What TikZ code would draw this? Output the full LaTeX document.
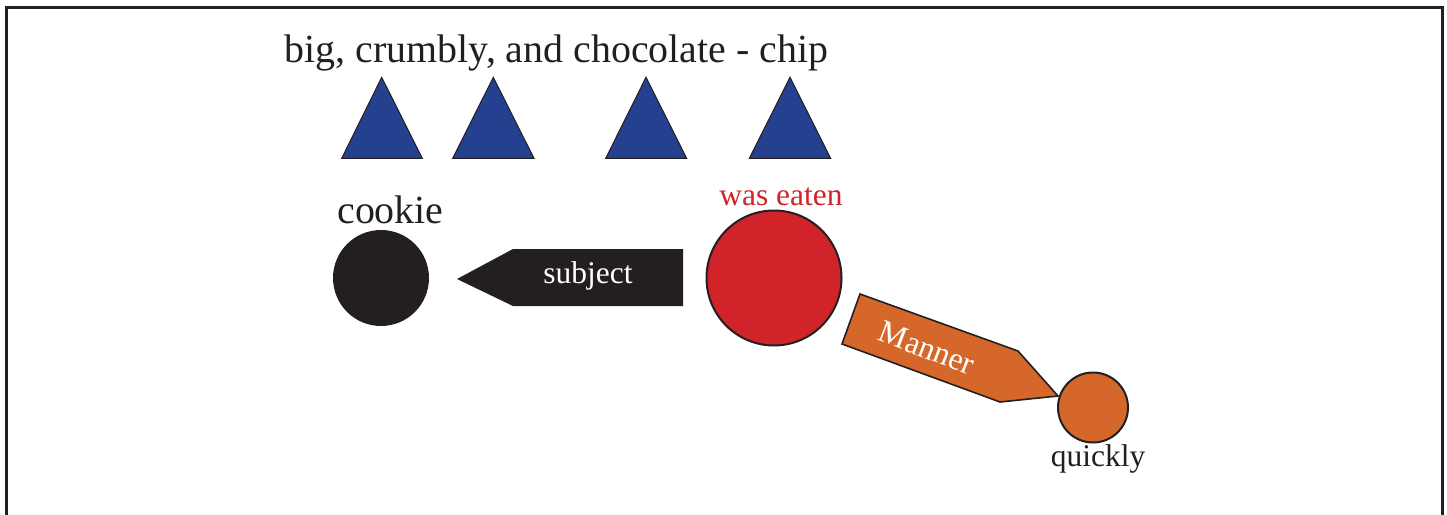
\documentclass[tikz,border=0pt]{standalone}
\usepackage{fontspec}
\setmainfont{Liberation Serif}
\definecolor{triblue}{HTML}{24408E}
\definecolor{verbred}{HTML}{D1232A}
\definecolor{advorange}{HTML}{D6672A}
\definecolor{inkblack}{HTML}{231F20}
\begin{document}
\begin{tikzpicture}[x=1pt,y=-1pt,
  tri/.style={fill=triblue,draw=inkblack,line width=1pt,line join=miter},
  bigtxt/.style={font=\fontsize{39.9}{40}\selectfont,text=inkblack,inner sep=0pt,anchor=base},
  midtxt/.style={font=\fontsize{31.5}{32}\selectfont,inner sep=0pt,anchor=base},
  blob/.style={circle,inner sep=0pt,line width=2pt,draw=inkblack}]
\useasboundingbox (0,0) rectangle (1447,514);
\draw[inkblack,line width=3pt] (6,7) rectangle (1442,540);
% title and modifiers
\node[bigtxt] (title) at (556.5,62) {big, crumbly, and chocolate - chip};
\draw[tri] (341.7,158.3) -- (381.7,77.3) -- (422.3,158.3) -- cycle;
\draw[tri] (452.7,158.3) -- (493.3,77.3) -- (534,158.3) -- cycle;
\draw[tri] (605.7,158.3) -- (646,77.3) -- (686.7,158.3) -- cycle;
\draw[tri] (749.3,158.3) -- (790,77.3) -- (830.7,158.3) -- cycle;
% cookie
\node[blob,fill=inkblack,draw=none,minimum size=96pt] (cookie) at (381,278) {};
\node[bigtxt] (cookielbl) at (390.5,223) {cookie};
% was eaten
\node[blob,fill=verbred,minimum size=135pt] (eaten) at (774,278) {};
\node[midtxt,text=verbred] (eatenlbl) at (781,205) {was eaten};
% subject arrow
\fill[inkblack] (683,249) -- (513,249) -- (457,279) -- (513,306) -- (683,306) -- cycle;
\node[midtxt,text=white] (subj) at (588,283) {subject};
% quickly
\node[blob,fill=advorange,minimum size=70pt] (quick) at (1093,407.5) {};
\node[midtxt,text=inkblack] (quicklbl) at (1098,466) {quickly};
% manner arrow
\draw[fill=advorange,draw=inkblack,line width=1.6pt,line join=miter]
  (860,294) -- (842,344) -- (1000,402) -- (1058,396) -- (1018,351) -- cycle;
\node[font=\fontsize{32}{32}\selectfont,text=white,inner sep=0pt,rotate=-21] (manner) at (927,348) {Manner};
\end{tikzpicture}
\end{document}
